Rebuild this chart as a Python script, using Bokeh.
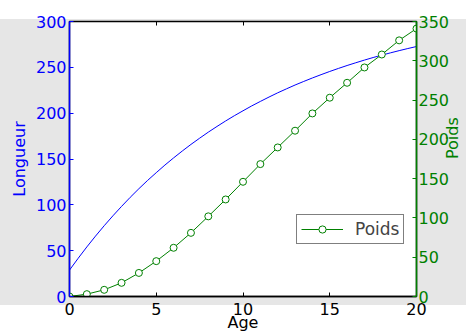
import math
from bokeh.plotting import figure
from bokeh.models import (Range1d, LinearAxis, FixedTicker, Legend, LegendItem,
                          CustomJSTickFormatter)
from bokeh.embed import file_html
from bokeh.resources import INLINE

# --- data ---
age_longueur = [0, 0.5, 1, 1.5, 2, 2.5, 3, 3.5, 4, 4.5, 5, 5.5, 6, 6.5, 7, 7.5, 8, 8.5, 9, 9.5,
                10, 10.5, 11, 11.5, 12, 12.5, 13, 13.5, 14, 14.5, 15, 15.5, 16, 16.5, 17, 17.5,
                18, 18.5, 19, 19.5, 20]
longueur = [28.8, 41.7, 54.1, 65.9, 77.2, 88.0, 98.3, 108.2, 117.6, 126.6, 135.1, 143.4, 151.2,
            158.7, 165.9, 172.7, 179.3, 185.5, 191.5, 197.2, 202.6, 207.9, 212.8, 217.6, 222.2,
            226.5, 230.7, 234.6, 238.4, 242.0, 245.5, 248.8, 252.0, 255.0, 257.9, 260.7, 263.3,
            265.8, 268.2, 270.5, 272.7]
age_poids = list(range(0, 21))
poids = [0, 3, 8.5, 17.4, 30, 45, 62, 81, 102, 123.5, 146, 168.5, 189.7, 211, 233, 253,
         272, 291.5, 308, 326, 341]
x_ticks = [0, 5, 10, 15, 20]
left_ticks = [0, 50, 100, 150, 200, 250, 300]
right_ticks = [0, 50, 100, 150, 200, 250, 300, 350]

BLUE = "#0000ff"
GREEN = "#008000"
FONT = "DejaVu Sans"
GRAY = "#e6e6e6"

p = figure(frame_width=347, frame_height=275, output_backend="svg", toolbar_location=None,
           x_range=Range1d(0, 20), y_range=Range1d(0, 300), title=None,
           min_border_left=69, min_border_right=50, min_border_top=21, min_border_bottom=36,
           x_axis_location=None, y_axis_location=None)
p.extra_y_ranges = {"poids": Range1d(0, 350)}
p.border_fill_color = None
p.background_fill_color = "white"
p.outline_line_color = "black"
p.outline_line_width = 1.5
p.styles = {"background": f"linear-gradient(to bottom, white 0px, white 19px, {GRAY} 19px, {GRAY} 305px, white 305px, white 100%)"}
p.xgrid.visible = False
p.ygrid.visible = False

def style_axis(ax, color):
    ax.major_tick_in = 4
    ax.major_tick_out = 0
    ax.minor_tick_in = 0
    ax.minor_tick_out = 0
    ax.major_tick_line_color = color
    ax.axis_line_color = color
    ax.axis_line_width = 1.5
    ax.major_label_text_color = color
    ax.major_label_text_font = FONT
    ax.major_label_text_font_size = "16px"
    ax.axis_label_text_color = color
    ax.axis_label_text_font = FONT
    ax.axis_label_text_font_size = "16px"
    ax.axis_label_text_font_style = "normal"

xb = LinearAxis(axis_label="Age", ticker=FixedTicker(ticks=x_ticks))
style_axis(xb, "black")
xb.major_label_standoff = 6
xb.axis_label_standoff = -5
p.add_layout(xb, "below")

# top ticks only (no labels)
xt = LinearAxis(ticker=FixedTicker(ticks=x_ticks), formatter=CustomJSTickFormatter(code="return ''"))
style_axis(xt, "black")
xt.axis_line_color = None
xt.major_label_standoff = 0
p.add_layout(xt, "above")

yl = LinearAxis(axis_label="Longueur", ticker=FixedTicker(ticks=left_ticks))
style_axis(yl, BLUE)
yl.major_label_standoff = 3
yl.axis_label_standoff = 4
p.add_layout(yl, "left")

yr = LinearAxis(axis_label="Poids", y_range_name="poids", ticker=FixedTicker(ticks=right_ticks))
style_axis(yr, GREEN)
yr.major_label_standoff = 2
yr.axis_label_standoff = 0
yr.axis_label_orientation = math.pi / 2
p.add_layout(yr, "right")

p.line(age_longueur, longueur, line_color=BLUE, line_width=1)
gl = p.line(age_poids, poids, y_range_name="poids", line_color=GREEN, line_width=1)
gs = p.scatter(age_poids, poids, y_range_name="poids", marker="circle", size=7,
               line_color=GREEN, fill_color="white", line_width=1)

legend = Legend(items=[LegendItem(label="Poids", renderers=[gl, gs])],
                location=(227, 52), padding=4, margin=0, glyph_width=42, glyph_height=18,
                label_standoff=12, border_line_color="black", border_line_width=1,
                background_fill_color="white", background_fill_alpha=1,
                label_text_font=FONT, label_text_font_size="17px")
p.add_layout(legend, "center")

open("out.html", "w").write(file_html(p, INLINE))
